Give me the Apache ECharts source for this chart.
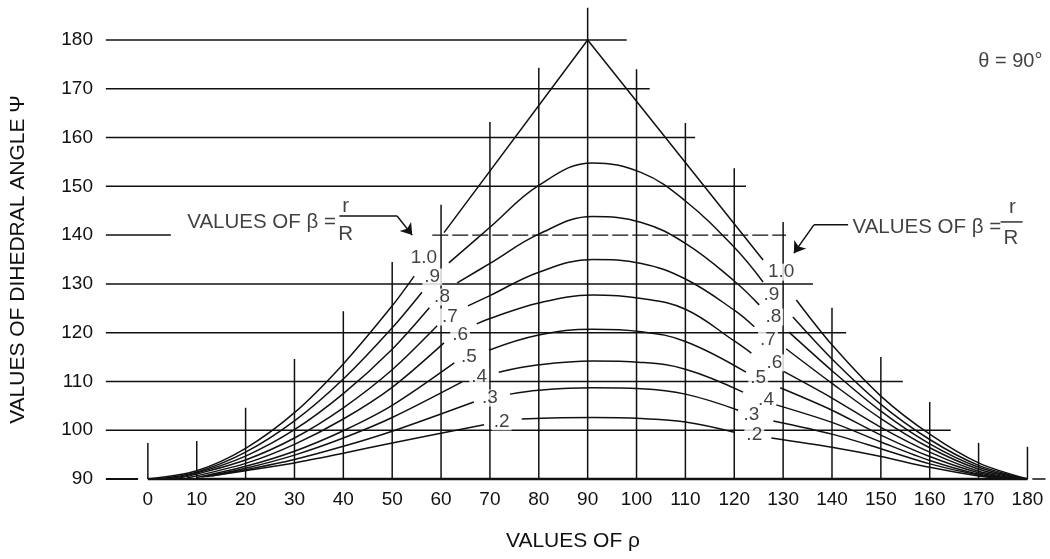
<!DOCTYPE html>
<html><head><meta charset="utf-8">
<script src="https://cdn.jsdelivr.net/npm/echarts/dist/echarts.min.js"></script>
<style>html,body{margin:0;padding:0;background:#fff}#c{width:1050px;height:559px}</style>
</head><body><div id="c"></div>
<script>
// ---- data ----
const betaNames = ['1.0', '.9', '.8', '.7', '.6', '.5', '.4', '.3', '.2'];

// horizontal ruling lines (psi value, rho where the line ends)
const rowPsi = [180, 170, 160, 150, 130, 120, 110, 100];
const rowEnd = [98, 102.7, 112, 122.4, 136.1, 142.9, 154.5, 164.3];
const rowStart = -8.6;
const row140Left = [-8.6, 4.7];
const row140Dashed = [58.2, 130.6];
const baseLeftDash = [-8.6, -2];
const baseRightDash = [181, 183.7];

// vertical ruling lines (rho value, psi where the line stops)
const colRho = [0, 10, 20, 30, 40, 50, 60, 70, 80, 90, 100, 110, 120, 130, 140, 150, 160, 170, 180];
const colTop = [97.4, 97.8, 104.6, 114.6, 124.4, 134.5, 146.2, 163.2, 174.3, 186.6, 174, 163, 153.7, 142.7, 125.1, 115, 105.8, 97.4, 96.6];

// curve pieces for each beta (order of betaNames): rising part, crest, falling part
const leftFan = [
  [[0, 90], [10, 91.7], [20, 96.3], [30, 103.6], [40, 113.6], [50, 125.5], [54.5, 131.6]],
  [[2, 90], [10, 91.4], [20, 95.5], [30, 101.9], [40, 110.5], [50, 121.0], [56.1, 128.3]],
  [[4, 90], [10, 91.2], [20, 94.7], [30, 100.1], [40, 107.5], [50, 116.6], [57.6, 125.1]],
  [[6, 90.1], [10, 91.0], [20, 93.9], [30, 98.4], [40, 104.6], [50, 112.4], [59.2, 121.4]],
  [[8, 90.2], [20, 93.2], [30, 97.1], [40, 102.3], [50, 108.8], [60.6, 117.9]],
  [[10, 90.3], [20, 92.6], [30, 95.7], [40, 99.9], [50, 105.1], [62.7, 113.8]],
  [[11, 90.4], [20, 92.2], [30, 94.9], [40, 98.4], [50, 102.6], [64.3, 109.9]],
  [[12, 90.5], [20, 91.9], [30, 94.0], [40, 96.7], [50, 99.8], [66.7, 105.8]],
  [[13, 90.6], [20, 91.7], [30, 93.3], [40, 95.3], [50, 97.4], [68.8, 101.1]]
];
const midArc = [
  [[60.6, 140.5], [90, 180], [125.9, 134.9]],
  [[61.6, 134.3], [70, 141.6], [80, 150.2], [91, 154.8], [101, 152.8], [110, 147.0], [120, 137.5], [125.9, 130.4]],
  [[63.3, 130.2], [70, 134.2], [80, 140.2], [91, 143.8], [101, 142.6], [110, 138.3], [120, 130.6], [125.1, 125.7]],
  [[65.5, 125.5], [70, 127.6], [80, 132.4], [91, 135.0], [101, 134.2], [110, 131.0], [120, 124.6], [124.1, 121.2]],
  [[67.3, 121.8], [70, 122.9], [80, 126.1], [91, 127.7], [101, 127.0], [110, 124.8], [120, 118.3], [123.5, 115.8]],
  [[69.8, 116.4], [80, 119.5], [91, 120.7], [101, 120.2], [110, 118.2], [122.4, 111.9]],
  [[71.8, 111.9], [80, 113.4], [91, 114.2], [101, 113.9], [110, 112.5], [121.8, 107.8]],
  [[74.1, 107.4], [80, 108.2], [91, 108.7], [101, 108.5], [110, 107.4], [120.8, 104.1]],
  [[76.5, 102.3], [91, 102.6], [101, 102.4], [110, 101.7], [120, 99.6]]
];
const rightFan = [
  [[132.7, 126.7], [140, 117.5], [150, 107.0], [160, 99.2], [170, 93.3], [180, 90]],
  [[132.0, 123.2], [140, 114.6], [150, 105.3], [160, 98.1], [170, 92.8], [180, 90]],
  [[131.2, 120.1], [140, 112.2], [150, 103.9], [160, 97.2], [170, 92.4], [179.5, 90]],
  [[130.6, 116.7], [140, 109.6], [150, 102.4], [160, 96.4], [170, 92.0], [179, 90]],
  [[130.0, 112.1], [140, 106.6], [150, 100.6], [160, 95.5], [170, 91.6], [178.5, 90]],
  [[129.4, 108.7], [140, 104.1], [150, 99.0], [160, 94.6], [170, 91.3], [178, 90]],
  [[128.6, 105.2], [140, 101.6], [150, 97.6], [160, 93.8], [170, 91.0], [177, 90]],
  [[128.0, 101.9], [140, 99.2], [150, 96.2], [160, 93.1], [170, 90.8], [176, 90]],
  [[127.6, 98.4], [140, 96.5], [150, 94.6], [160, 92.4], [170, 90.6], [175, 90]]
];
// where the beta labels sit
const leftLabelAt = [[56.5, 135.3], [58.2, 131.4], [60.2, 127.3], [61.8, 123.2], [63.9, 119.5], [65.7, 115.0], [67.8, 110.9], [70.0, 106.6], [72.4, 101.7]];
const rightLabelAt = [[129.6, 132.4], [127.6, 127.7], [128.0, 123.2], [126.9, 118.5], [128.2, 113.8], [124.9, 110.7], [126.5, 106.2], [123.5, 103.1], [124.1, 99.0]];

// annotation anchors
const leftNoteAt = [38.6, 142.6];
const leftFracR = [[40.5, 146.0], [40.5, 140.2]];
const leftArrow = [[39.2, 143.9], [51.0, 143.9]];
const leftArrowHead = [[51.0, 143.9], [54.1, 140.0]];
const rightNoteAt = [144.3, 141.5];
const rightFracR = [[176.9, 145.6], [176.6, 139.4]];
const rightFracBar = [[174.5, 142.7], [179.0, 142.7]];
const rightArrow = [[143.3, 142.1], [136.3, 142.1]];
const rightArrowHead = [[136.3, 142.1], [132.2, 136.3]];
const thetaAt = [176.5, 175.5];

// ---- chart ----
const INK = '#111111';
const FONT = '"Liberation Sans", Arial, Helvetica, sans-serif';

function path(data, extra) {
  return Object.assign({
    type: 'line', data: data, symbol: 'none', showSymbol: false, clip: false,
    silent: true, animation: false, z: 2,
    lineStyle: { color: INK, width: 1.5 }
  }, extra || {});
}

const series = [];
rowPsi.forEach((y, i) => series.push(path([[rowStart, y], [rowEnd[i], y]])));
series.push(path([[row140Left[0], 140], [row140Left[1], 140]]));
series.push(path([[row140Dashed[0], 140], [row140Dashed[1], 140]], { lineStyle: { color: INK, width: 1.4, type: [16, 4] } }));
series.push(path([[baseLeftDash[0], 90], [baseLeftDash[1], 90]], { lineStyle: { color: INK, width: 2 } }));
series.push(path([[baseRightDash[0], 90], [baseRightDash[1], 90]], { lineStyle: { color: INK, width: 1.5 } }));
series.push(path([[0, 90], [180, 90]], { lineStyle: { color: INK, width: 2.6 }, z: 3 }));
colRho.forEach((x, i) => series.push(path([[x, 90], [x, colTop[i]]])));

leftFan.forEach(d => series.push(path(d, { smooth: 0.3 })));
midArc.forEach((d, i) => series.push(path(d, { smooth: i === 0 ? false : 0.4 })));
rightFan.forEach(d => series.push(path(d, { smooth: 0.3 })));

// arrows and fraction bars
series.push(path(leftArrow, {
  markLine: {
    silent: true, animation: false, symbol: ['none', 'arrow'], symbolSize: 11,
    label: { show: false }, lineStyle: { color: INK, width: 1.5, type: 'solid' },
    data: [
      [{ coord: leftArrowHead[0] }, { coord: leftArrowHead[1] }],
      [{ coord: rightArrowHead[0] }, { coord: rightArrowHead[1] }]
    ]
  }
}));
series.push(path(rightArrow));
series.push(path(rightFracBar, { lineStyle: { color: INK, width: 1.3 } }));

const labelBase = { show: true, fontSize: 19, fontFamily: FONT, color: INK, position: 'inside' };
function labelSeries(points, names, lbl) {
  return {
    type: 'scatter', symbolSize: 1, silent: true, animation: false, z: 20,
    itemStyle: { color: 'rgba(0,0,0,0)' },
    data: points.map((p, i) => ({ value: p, name: names[i] })),
    label: Object.assign({}, labelBase, { formatter: '{b}' }, lbl || {})
  };
}
series.push(labelSeries(leftLabelAt, betaNames, { backgroundColor: '#fff', padding: [0, 2], lineHeight: 17 }));
series.push(labelSeries(rightLabelAt, betaNames, { backgroundColor: '#fff', padding: [0, 2], lineHeight: 17 }));
series.push(labelSeries([leftNoteAt], ['VALUES OF \u03B2 ='], { position: [0, 0], align: 'right', verticalAlign: 'middle', fontSize: 20.5 }));
series.push(labelSeries(leftFracR, ['r', 'R'], { fontSize: 20.5 }));
series.push(labelSeries([rightNoteAt], ['VALUES OF \u03B2 ='], { position: [0, 0], align: 'left', verticalAlign: 'middle', fontSize: 20.5 }));
series.push(labelSeries(rightFracR, ['r', 'R'], { fontSize: 20.5 }));
series.push(labelSeries([thetaAt], ['\u03B8 = 90\u00B0'], { fontSize: 20 }));

const chart = echarts.init(document.getElementById('c'), null, { renderer: 'canvas' });
chart.setOption({
  animation: false,
  backgroundColor: '#fff',
  grid: { left: 96, right: 3, top: 40, bottom: 80, containLabel: false },
  xAxis: {
    type: 'value', min: -10, max: 184, interval: 10,
    name: 'VALUES OF \u03C1', nameLocation: 'middle', nameGap: 52,
    nameTextStyle: { fontSize: 21, fontFamily: FONT, color: INK },
    axisLine: { show: false }, axisTick: { show: false }, splitLine: { show: false },
    axisLabel: {
      fontSize: 19, fontFamily: FONT, color: INK, margin: 11,
      formatter: v => (v >= 0 && v <= 180 && v % 10 === 0) ? String(v) : ''
    }
  },
  yAxis: {
    type: 'value', min: 90, max: 180, interval: 10,
    name: 'VALUES OF DIHEDRAL ANGLE \u03A8', nameLocation: 'middle', nameGap: 70, nameRotate: 90,
    nameTextStyle: { fontSize: 21, fontFamily: FONT, color: INK },
    axisLine: { show: false }, axisTick: { show: false }, splitLine: { show: false },
    axisLabel: { fontSize: 19, fontFamily: FONT, color: INK, margin: 6 }
  },
  series: series
});
</script>
</body></html>
